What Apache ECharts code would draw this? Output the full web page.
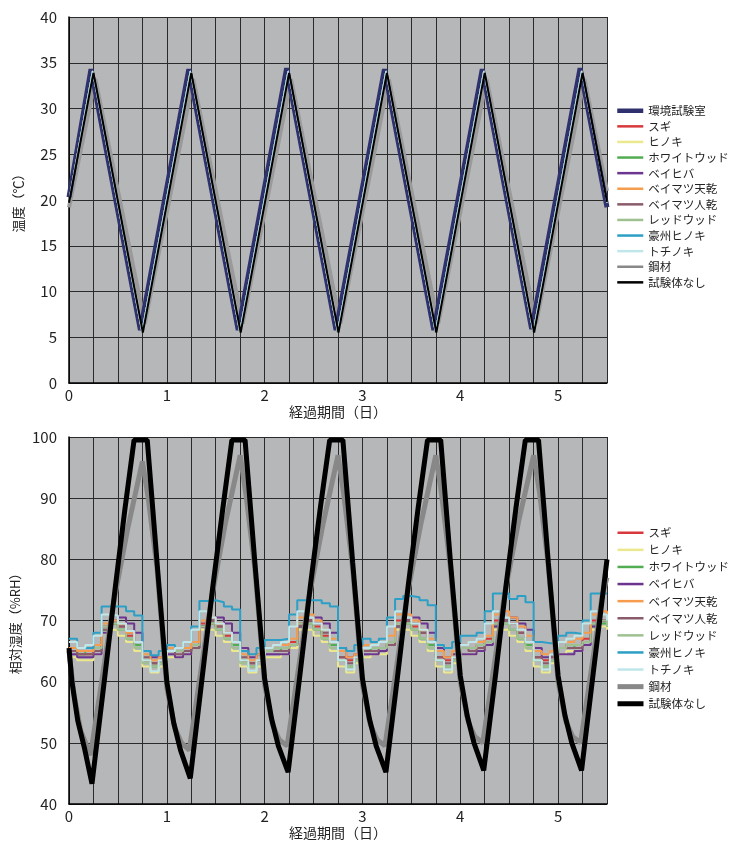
<!DOCTYPE html>
<html><head><meta charset="utf-8">
<script src="https://cdn.jsdelivr.net/npm/echarts@6/dist/echarts.min.js"></script>
<style>html,body{margin:0;padding:0;background:#fff}#c{width:739px;height:841px}</style>
</head><body><div id="c"></div>
<script>
// ---------- Temperature (top) : [day, value] key points ----------
const tempChamberT = [0,0.225,0.73,1.225,1.73,2.225,2.73,3.225,3.73,4.225,4.73,5.225,5.5];
const tempChamberV = [20.3,34.3,5.8,34.3,5.8,34.4,5.8,34.3,5.8,34.3,5.9,34.4,19.2];
const tempNoneT = [0,0.25,0.755,1.25,1.755,2.25,2.755,3.25,3.755,4.25,4.755,5.25,5.5];
const tempNoneV = [19.7,33.9,5.5,33.9,5.5,33.9,5.5,33.9,5.5,33.9,5.5,33.9,19.8];
const tempSteelT = [0,0.27,0.775,1.27,1.775,2.27,2.775,3.27,3.775,4.27,4.775,5.27,5.5];
const tempSteelV = [19.2,33.2,6.5,33.2,6.5,33.2,6.5,33.2,6.5,33.2,6.5,33.2,21];
const tempWoodT = [0,0.24,0.745,1.24,1.745,2.24,2.745,3.24,3.745,4.24,4.745,5.24,5.5];
const tempWoodV = [20,34.1,5.6,34.1,5.6,34.1,5.6,34.1,5.6,34.1,5.6,34.1,19.7];

// ---------- Relative humidity (bottom) ----------
const woodHours = [0,2,4,6,8,10,12,14,16,18,20,22,24,26,28,30,32,34,36,38,40,42,44,46,48,50,52,54,56,58,60,62,64,66,68,70,72,74,76,78,80,82,84,86,88,90,92,94,96,98,100,102,104,106,108,110,112,114,116,118,120,122,124,126,128,130,132];
const rhSugi = [65,64.5,64.5,65.5,69,69.5,69,67.5,66,63.5,63,63.5, 65,65,65,66,69.5,69.5,69,67.5,66,63.5,63,63.5, 65,65,65.5,66.5,69.5,70,69,67.5,66,64,63.5,64, 65.5,65.5,65.5,66.5,70,70,69,68,66.5,64,63.5,64, 65.5,65.5,66,67,70,70,69.5,68,66.5,64,63.5,64, 65.5,66,66,67,70,70,69.5];
const rhHinoki = [64,63.5,63.5,64.5,68,68.5,67.5,66.5,65,62.5,61.5,62.5, 64,64,64.5,65.5,68.5,68.5,67.5,66.5,65,62.5,61.5,62.5, 64,64,64.5,65.5,68.5,68.5,67.5,66.5,65,62.5,61.5,63, 64,64.5,64.5,66,68.5,68.5,67.5,66.5,65,62.5,61.5,63, 64.5,64.5,65,66,68.5,68.5,67.5,66.5,65,62.5,61.5,63, 64.5,65,65,66.5,68.5,69,68.5];
const rhWhitewood = [65,64.5,65,65.5,68.5,69.5,68.5,67,66,63.5,62.5,63, 65,65,65,66,69,69.5,68.5,67,66,63.5,62.5,63.5, 65,65,65.5,66,69,69.5,68.5,67,66,63.5,62.5,63.5, 65,65.5,65.5,66.5,69,69.5,68.5,67,66,63.5,62.5,63.5, 65.5,65.5,65.5,66.5,69,69.5,68.5,67,66,63.5,62.5,63.5, 65.5,65.5,66,66.5,69,69.5,69];
const rhBeihiba = [64.5,64,64,64.5,68,70,70.5,69.5,68,65,64,64, 64.5,64,64.5,65.5,69,70,70.5,69.5,68,65.5,64,64.5, 64.5,64.5,64.5,66,69,70,70.5,69.5,68,65.5,64,64.5, 64.5,64.5,65,66,69,70,70.5,69.5,68,65.5,64,64.5, 64.5,64.5,65,66,69,70,70.5,69.5,68.5,65.5,64,64.5, 64.5,64.5,65,66,69,70,70.5];
const rhBeimatsuAir = [65.5,65,65,66,69.5,70,69.5,68,66.5,64.5,63.5,64, 65.5,65.5,65.5,66.5,70,70.5,69.5,68,66.5,64.5,63.5,64.5, 65.5,66,66,67,70.5,71,70,68.5,67,65,64,64.5, 66,66,66.5,67.5,71,71,70,68.5,67,65,64,65, 66,66.5,66.5,67.5,71,71.5,70.5,69,67.5,65,64.5,65, 66.5,66.5,67,68,71,71.5,71];
const rhBeimatsuKiln = [65,64.5,64.5,65,68.5,70,69,68,66.5,64,63,63.5, 65,64.5,65,65.5,69,70,69,68,66.5,64,63,63.5, 65,65,65,66,69,70,69.5,68,66.5,64,63,64, 65,65,65.5,66,69,70,69.5,68,66.5,64,63,64, 65.5,65,65.5,66.5,69.5,70,69.5,68,66.5,64,63,64, 65.5,65.5,65.5,66.5,69.5,70,69.5];
const rhRedwood = [65.5,65,65,65.5,69,69.5,68.5,67,65.5,63,62.5,63, 65,65,65.5,66,69,69.5,68.5,67,65.5,63,62.5,63.5, 65,65.5,65.5,66,69.5,69.5,68.5,67,65.5,63.5,62.5,63.5, 65.5,65.5,65.5,66.5,69.5,69.5,68.5,67,65.5,63.5,62.5,63.5, 65.5,65.5,66,66.5,69.5,69.5,68.5,67,65.5,63.5,62.5,63.5, 65.5,66,66,66.5,69.5,70,69];
const rhAusHinoki = [67,65.5,65.5,68,72.3,72.3,72.3,71.5,70.8,65,64.3,65, 66,65.5,66.5,69,73.2,73.3,73,72.3,71.8,65,64.5,65.5, 66.8,66.8,67,71,73.3,73.3,73.3,72.8,72.3,65.5,65,66, 67,66.5,67,70.5,73.5,74,73.8,73.3,72.5,66,65.5,66.5, 67.5,67.5,68,71.5,74.4,74.4,73.5,74,73,66.5,66.3,66.3, 67.5,68,67.8,70,74.4,74.4,74.4];
const rhTochinoki = [66.5,65.5,66,67.5,71,70.8,69.5,68.3,66.5,63.5,61.7,63.5, 65,65.5,66.5,68.5,71.5,70.5,69.5,68,66.5,63.5,61.8,63.5, 65.5,66,66.5,69,71.5,70.5,69.5,68.5,66.5,63.5,62,64, 65.5,66,66.5,69,71.5,70.5,69.5,68.5,66.5,63.5,62,64, 66,66.5,67,69.5,71.5,70.5,69.5,68.5,66.5,63.5,62,64.5, 66.5,67,67.5,69.5,71.5,71,70];

const rhSteelT = [0,0.05,0.12,0.22,0.45,0.6,0.75,0.81,0.9,1.0,1.08,1.15,1.23,1.45,1.6,1.75,1.81,1.9,2.0,2.08,2.15,2.23,2.45,2.6,2.75,2.81,2.9,3.0,3.08,3.15,3.23,3.45,3.6,3.75,3.81,3.9,4.0,4.08,4.15,4.23,4.45,4.6,4.75,4.81,4.9,5.0,5.08,5.15,5.23,5.45,5.5];
const rhSteelV = [65,58,52,48,72.4,85,96,90,78.5,59,52.5,50,48.8,73,86,97,90.5,78.5,59.5,53,50.5,49.5,73.5,86,97,90.5,78.5,59.5,53,50.5,49.5,73.5,86,97,90.5,78.5,60,53.5,51,50,74,86.5,97,91,79,60,53.5,51,50,74,77];
const rhNoneT = [0,0.03,0.09,0.16,0.235,0.36,0.47,0.57,0.665,0.8,0.9,1.0,1.07,1.14,1.24,1.36,1.47,1.57,1.665,1.8,1.9,2.0,2.07,2.14,2.24,2.36,2.47,2.57,2.665,2.8,2.9,3.0,3.07,3.14,3.24,3.36,3.47,3.57,3.665,3.8,3.9,4.0,4.07,4.14,4.24,4.36,4.47,4.57,4.665,4.8,4.9,5.0,5.07,5.14,5.24,5.36,5.47,5.5];
const rhNoneV = [65.5,60,53.6,49,43.3,60,75,88,99.5,99.5,79.5,60,53.3,48.8,44.2,60.5,75.5,88,99.5,99.5,79.5,60.5,54,49.5,45.2,61,76,88.5,99.5,99.5,79.5,60.5,54,49.5,45.2,61,76,88.5,99.5,99.5,79.5,61,54.5,50,45.5,61,76,88.5,99.5,99.5,79.5,61,54.5,50,45.5,61.5,76,80];

const FONT = 'Noto Sans CJK JP';
const pairs = (t, v) => t.map((x, i) => [x, v[i]]);
const woodPairs = v => woodHours.map((h, i) => [h / 24, v[i]]);

const C = {
  chamber:'#2f306e', sugi:'#d8383c', hinoki:'#ebe88e', white:'#52ad52', beihiba:'#6b3590',
  bmAir:'#f59c4f', bmKiln:'#8a5b6b', red:'#9fc191', aus:'#2b9fc6', tochi:'#bfe6e8',
  steel:'#888888', none:'#000000'
};

function xAxis(gi){
  return {type:'value', gridIndex:gi, min:0, max:5.5, interval:0.25,
    name:'経過期間（日）', nameLocation:'middle', nameGap:22,
    nameTextStyle:{fontFamily:FONT, fontSize:14, color:'#222'},
    axisLine:{show:true, onZero:false, lineStyle:{color:'#000', width:1.5}},
    axisTick:{show:false},
    axisLabel:{fontFamily:FONT, fontSize:15, color:'#222', margin:5,
      formatter: v => (Math.abs(v - Math.round(v)) < 1e-9 ? String(Math.round(v)) : '')},
    splitLine:{show:true, lineStyle:{color:'#2a2a2a', width:1}}};
}
function yAxis(gi, min, max, itv, name){
  return {type:'value', gridIndex:gi, min, max, interval:itv,
    name, nameLocation:'middle', nameGap:44, nameRotate:90,
    nameTextStyle:{fontFamily:FONT, fontSize:13, color:'#222'},
    axisLine:{show:true, lineStyle:{color:'#000', width:1.5}},
    axisTick:{show:false},
    axisLabel:{fontFamily:FONT, fontSize:15, color:'#222', margin:12},
    splitLine:{show:true, lineStyle:{color:'#2a2a2a', width:1}}};
}
function ln(name, data, color, width, xi, stepped, z){
  const s = {name, type:'line', xAxisIndex:xi, yAxisIndex:xi, data, symbol:'none',
    lineStyle:{color, width}, itemStyle:{color}, z: z||2, silent:true};
  if (stepped) s.step = 'end';
  return s;
}

const woodTop = [
  ['スギ',C.sugi],['ヒノキ',C.hinoki],['ホワイトウッド',C.white],['ベイヒバ',C.beihiba],
  ['ベイマツ天乾',C.bmAir],['ベイマツ人乾',C.bmKiln],['レッドウッド',C.red],['豪州ヒノキ',C.aus],['トチノキ',C.tochi]
];
const series = [];
series.push(ln('鋼材', pairs(tempSteelT, tempSteelV), '#9a9a9a', 4, 0));
series.push(ln('環境試験室', pairs(tempChamberT, tempChamberV), C.chamber, 5, 0));
woodTop.forEach(([n,c]) => series.push(ln(n, pairs(tempWoodT, tempWoodV), c, 1.2, 0)));
series.push(ln('試験体なし', pairs(tempNoneT, tempNoneV), C.none, 2, 0, false, 3));

const woodBottom = [
  ['ヒノキ',rhHinoki,C.hinoki],['スギ',rhSugi,C.sugi],['ホワイトウッド',rhWhitewood,C.white],
  ['ベイヒバ',rhBeihiba,C.beihiba],['ベイマツ人乾',rhBeimatsuKiln,C.bmKiln],['レッドウッド',rhRedwood,C.red],
  ['ベイマツ天乾',rhBeimatsuAir,C.bmAir],['豪州ヒノキ',rhAusHinoki,C.aus],['トチノキ',rhTochinoki,C.tochi]
];
woodBottom.forEach(([n,d,c]) => series.push(ln(n, woodPairs(d), c, 2, 1, true)));
series.push(ln('鋼材', pairs(rhSteelT, rhSteelV), C.steel, 5, 1, false, 3));
series.push(ln('試験体なし', pairs(rhNoneT, rhNoneV), C.none, 5, 1, false, 4));

const legTxt = {fontFamily:FONT, fontSize:11.5, color:'#222'};
const topNames = ['環境試験室','スギ','ヒノキ','ホワイトウッド','ベイヒバ','ベイマツ天乾','ベイマツ人乾','レッドウッド','豪州ヒノキ','トチノキ','鋼材','試験体なし'];
const botNames = ['スギ','ヒノキ','ホワイトウッド','ベイヒバ','ベイマツ天乾','ベイマツ人乾','レッドウッド','豪州ヒノキ','トチノキ','鋼材','試験体なし'];
const colorOf = {'環境試験室':C.chamber,'スギ':C.sugi,'ヒノキ':C.hinoki,'ホワイトウッド':C.white,'ベイヒバ':C.beihiba,'ベイマツ天乾':C.bmAir,'ベイマツ人乾':C.bmKiln,'レッドウッド':C.red,'豪州ヒノキ':C.aus,'トチノキ':C.tochi,'鋼材':C.steel,'試験体なし':C.none};
const topW = {'環境試験室':4.5,'鋼材':2.5,'試験体なし':2.5};
const botW = {'鋼材':5,'試験体なし':5};
const legItem = (n, wmap) => ({name:n,
  itemStyle:{color:colorOf[n], opacity:0, borderWidth:0},
  lineStyle:{color:colorOf[n], width:wmap[n] || 2.5, opacity:1}});

const chart = echarts.init(document.getElementById('c'), null, {renderer:'canvas'});
chart.setOption({
  animation:false,
  backgroundColor:'#fff',
  textStyle:{fontFamily:FONT},
  grid:[
    {left:69, top:17, width:538, height:366, show:true, backgroundColor:'#b6b7b9', borderWidth:0},
    {left:69, top:437, width:538, height:370, show:true, backgroundColor:'#b6b7b9', borderWidth:0}
  ],
  xAxis:[xAxis(0), xAxis(1)],
  yAxis:[yAxis(0,0,40,5,'温度（℃）'), yAxis(1,40,100,10,'相対湿度（%RH）')],
  legend:[
    {orient:'vertical', left:615, top:105, padding:0, itemWidth:26, itemHeight:12, itemGap:4.1, textStyle:legTxt,
     selectedMode:false, data: topNames.map(n => legItem(n, topW))},
    {orient:'vertical', left:615, top:527, padding:0, itemWidth:26, itemHeight:12, itemGap:5.6, textStyle:legTxt,
     selectedMode:false, data: botNames.map(n => legItem(n, botW))}
  ],
  series
});
</script></body></html>
